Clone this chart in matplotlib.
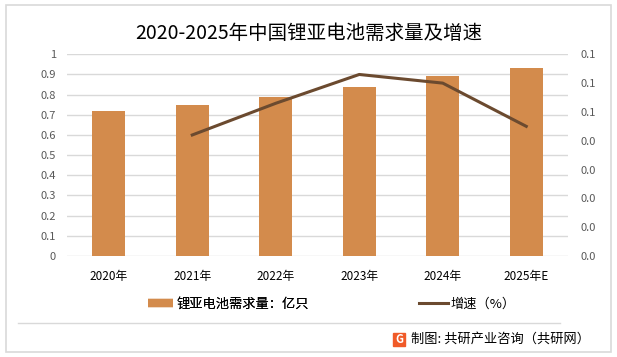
import numpy as np
import matplotlib
matplotlib.use("Agg")
import matplotlib.pyplot as plt
from matplotlib.lines import Line2D
from matplotlib.patches import Rectangle
from matplotlib.ticker import FuncFormatter

plt.rcParams['font.family'] = ['Noto Sans CJK SC', 'DejaVu Sans']

years = ["2020年", "2021年", "2022年", "2023年", "2024年", "2025年E"]
demand = [0.72, 0.75, 0.79, 0.84, 0.89, 0.93]          # 亿只
growth = [None, 0.042, 0.053, 0.063, 0.060, 0.045]     # 增速

bar_color = "#D38B4C"
line_color = "#6B4A2F"
grid_color = "#D9D9D9"
tick_color = "#595959"

fig = plt.figure(figsize=(6.17, 3.57), dpi=100)

# outer frame
fig.patches.append(Rectangle((5.5 / 617, 5 / 357), 605 / 617, 347 / 357,
                             transform=fig.transFigure, fill=False,
                             edgecolor="#D9D9D9", linewidth=1.2))

ax = fig.add_axes([67 / 617, 1 - 256 / 357, 501 / 617, 201.7 / 357])
x = np.arange(len(years))
ax.bar(x, demand, width=0.4, color=bar_color, zorder=2)
ax.set_xlim(-0.5, len(years) - 0.5)
ax.set_ylim(0, 1)
ax.set_yticks(np.arange(0, 1.01, 0.1))
ax.yaxis.set_major_formatter(FuncFormatter(lambda v, p: "0" if v < 1e-9 else ("1" if abs(v - 1) < 1e-9 else f"{v:.1f}")))
ax.grid(axis="y", color=grid_color, linewidth=1, zorder=0)
ax.set_xticks(x)
ax.set_xticklabels(years, fontsize=8.5, color="#000000")
ax.tick_params(axis="y", labelsize=8, colors=tick_color, length=0, pad=8)
ax.tick_params(axis="x", length=0, pad=10)
for s in ax.spines.values():
    s.set_visible(False)

ax2 = ax.twinx()
gx = [i for i, g in enumerate(growth) if g is not None]
gy = [g for g in growth if g is not None]
ax2.plot(gx, gy, color=line_color, linewidth=2.2, zorder=3)
ax2.set_ylim(0, 0.07)
ax2.set_yticks(np.linspace(0, 0.07, 8))
ax2.yaxis.set_major_formatter(FuncFormatter(lambda v, p: f"{np.floor(v * 10 + 0.5) / 10:.1f}"))
ax2.tick_params(axis="y", labelsize=8, colors=tick_color, length=0, pad=9)
for s in ax2.spines.values():
    s.set_visible(False)

fig.text(0.5, 1 - 33 / 357, "2020-2025年中国锂亚电池需求量及增速", ha="center", va="center",
         fontsize=14, color="#000000")

# legend
h1 = Line2D([], [], color=bar_color, linewidth=6, solid_capstyle="butt")
h2 = Line2D([], [], color=line_color, linewidth=2.2)
leg1 = fig.legend([h1], ["锂亚电池需求量：亿只"], loc="center left",
                  bbox_to_anchor=(136 / 617, 1 - 304 / 357), frameon=False,
                  fontsize=9.5, handlelength=1.9, handletextpad=0.3)
fig.legend([h2], ["增速（%）"], loc="center left",
           bbox_to_anchor=(407 / 617, 1 - 304 / 357), frameon=False,
           fontsize=9.5, handlelength=2.2, handletextpad=0.2)
fig.add_artist(leg1)

# separator line
fig.add_artist(Line2D([18 / 617, 560 / 617], [1 - 322.5 / 357] * 2,
                      transform=fig.transFigure, color="#D9D9D9", linewidth=1))

# footer with logo
fig.patches.append(Rectangle((393 / 617, 1 - 346 / 357), 12 / 617, 13 / 357,
                             transform=fig.transFigure, color="#F05A28"))
fig.text(399 / 617, 1 - 339.5 / 357, "G", ha="center", va="center", fontsize=8,
         color="white", fontweight="bold")
fig.text(411 / 617, 1 - 339.5 / 357, "制图: 共研产业咨询（共研网）", ha="left", va="center",
         fontsize=9.5, color="#000000")

fig.savefig("out.png", dpi=100)
